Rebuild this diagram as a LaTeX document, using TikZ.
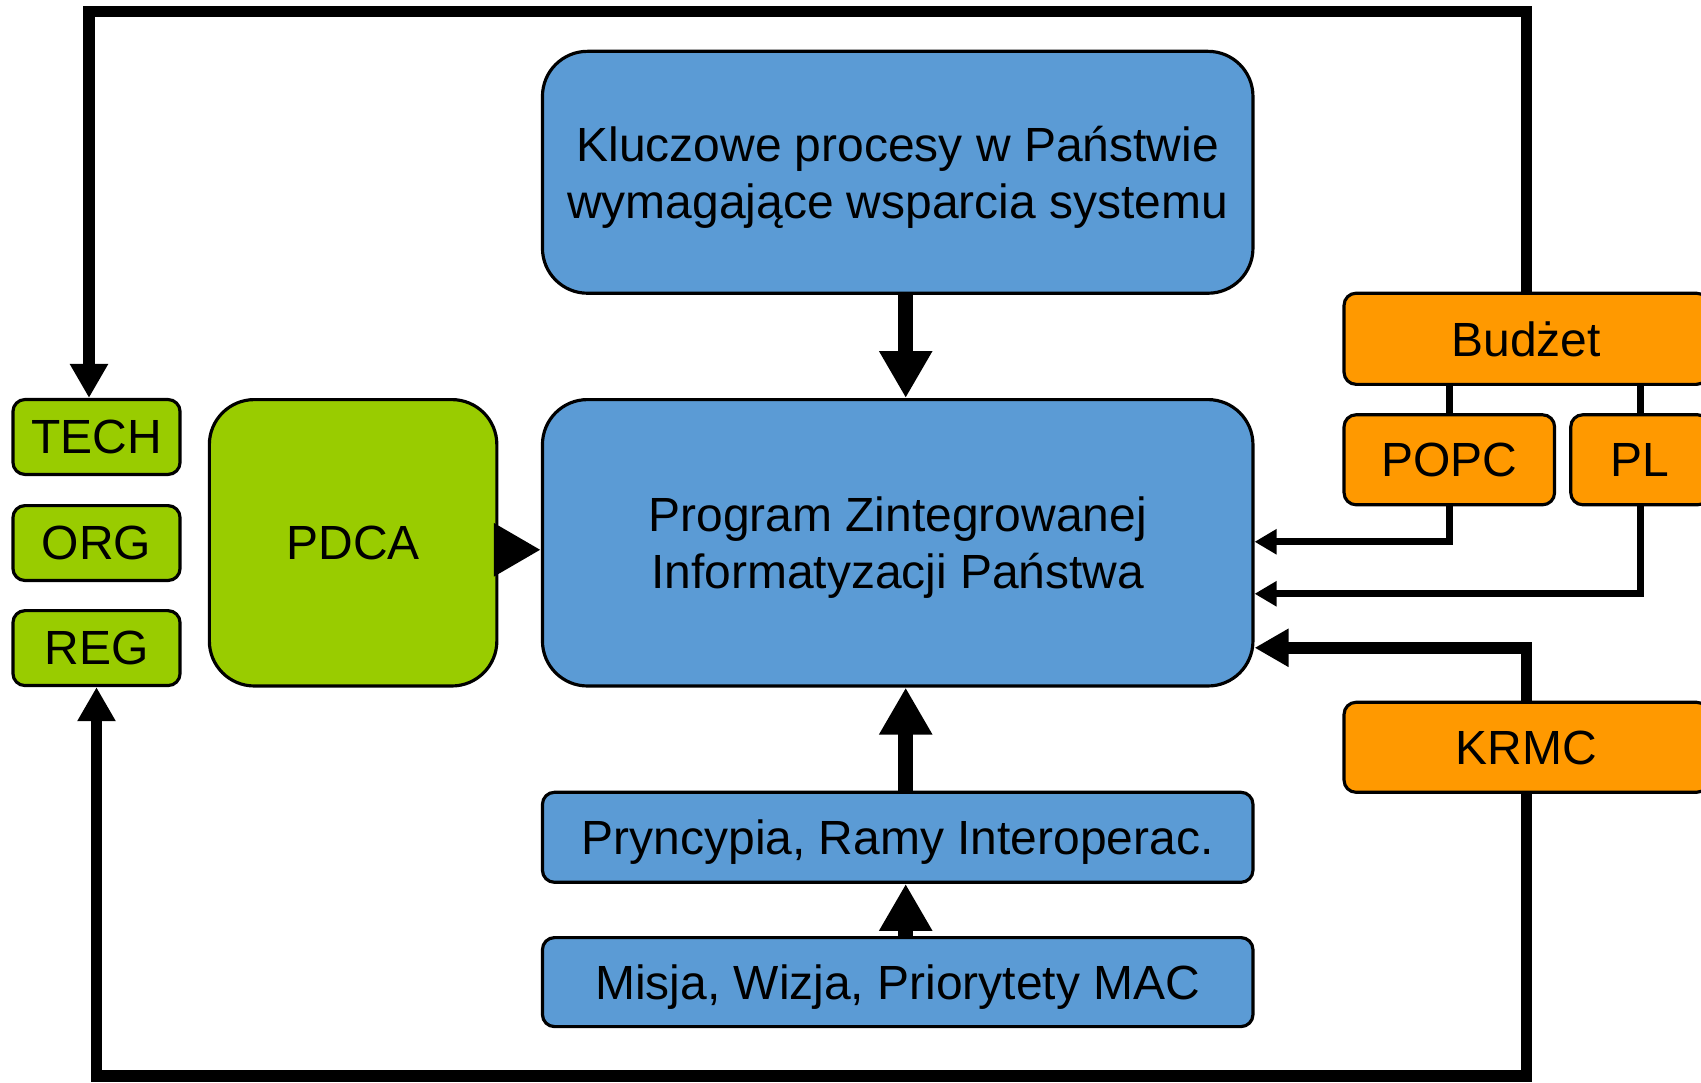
\documentclass[tikz,border=0pt]{standalone}
\usepackage{fontspec}
\setmainfont{Liberation Sans}
\usetikzlibrary{arrows.meta,positioning}

\definecolor{pzipblue}{RGB}{91,155,213}
\definecolor{pzipgreen}{RGB}{153,204,0}
\definecolor{pziporange}{RGB}{255,153,0}

\tikzstyle{bigbox} = [draw=black, line width=0.9pt, rectangle,
    rounded corners=0.45cm, align=center, inner sep=0pt, text depth=0pt]
\tikzstyle{smallbox} = [draw=black, line width=0.9pt, rectangle,
    rounded corners=0.12cm, align=center, inner sep=0pt, text depth=0pt]
\tikzstyle{fatarrow} = [line width=4.3pt, -{Triangle[length=0.47cm, width=0.5cm]}]
\tikzstyle{midarrow} = [line width=3.3pt, -{Triangle[length=0.34cm, width=0.36cm]}]
\tikzstyle{thinarrow} = [line width=2pt, -{Triangle[length=0.22cm, width=0.24cm]}]

\begin{document}
\begin{tikzpicture}[font=\fontsize{13.65pt}{16.4pt}\selectfont]
\useasboundingbox (0,0) rectangle (17.01,10.83);
\clip (0,0) rectangle (17.01,10.83);

%------------ bloki niebieskie ---------------------
\node [bigbox, fill=pzipblue, minimum width=7.105cm, minimum height=2.419cm]
    (Kluczowe) at (8.977,9.107) {Kluczowe procesy w Państwie\\wymagające wsparcia systemu};
\node [bigbox, fill=pzipblue, minimum width=7.105cm, minimum height=2.864cm]
    (Program) at (8.977,5.402) {Program Zintegrowanej\\Informatyzacji Państwa};
\node [smallbox, fill=pzipblue, minimum width=7.105cm, minimum height=0.9cm]
    (Pryncypia) at (8.977,2.457) {Pryncypia, Ramy Interoperac.};
\node [smallbox, fill=pzipblue, minimum width=7.105cm, minimum height=0.89cm]
    (Misja) at (8.977,1.009) {Misja, Wizja, Priorytety MAC};

%------------ bloki zielone ---------------------
\node [bigbox, fill=pzipgreen, minimum width=2.875cm, minimum height=2.864cm]
    (PDCA) at (3.531,5.402) {PDCA};
\node [smallbox, fill=pzipgreen, minimum width=1.671cm, minimum height=0.749cm]
    (TECH) at (0.965,6.46) {TECH};
\node [smallbox, fill=pzipgreen, minimum width=1.671cm, minimum height=0.749cm,
    below=0.28cm of TECH] (ORG) {ORG};
\node [smallbox, fill=pzipgreen, minimum width=1.671cm, minimum height=0.749cm,
    below=0.27cm of ORG] (REG) {REG};

%------------ bloki pomaranczowe ---------------------
\node [smallbox, fill=pziporange, minimum width=3.645cm, minimum height=0.911cm]
    (Budzet) at (15.263,7.442) {Budżet};
\node [smallbox, fill=pziporange, minimum width=2.105cm, minimum height=0.9cm]
    (POPC) at (14.493,6.232) {POPC};
\node [smallbox, fill=pziporange, minimum width=1.389cm, minimum height=0.9cm]
    (PL) at (16.402,6.232) {PL};
\node [smallbox, fill=pziporange, minimum width=3.645cm, minimum height=0.9cm]
    (KRMC) at (15.263,3.357) {KRMC};

%------------ strzalki ---------------------
\draw [fatarrow] ([xshift=0.8mm]Kluczowe.south) -- ([xshift=0.8mm]Program.north);
\draw [fatarrow] ([xshift=0.8mm]Pryncypia.north) -- ([xshift=0.8mm]Program.south);
\draw [fatarrow] ([xshift=0.8mm]Misja.north) -- ([xshift=0.8mm]Pryncypia.south);
\draw [fatarrow] ([yshift=-0.7mm]PDCA.east) -- ([yshift=-0.7mm]Program.west);

\draw [line width=2pt] (POPC.north) -- (POPC.north |- Budzet.south);
\draw [line width=2pt] (PL.north) -- (PL.north |- Budzet.south);
\draw [thinarrow] (POPC.south) |- ([yshift=0.1mm]Program.east);
\draw [thinarrow] (PL.south) |- ([yshift=-5.1mm]Program.east);
\draw [midarrow] (KRMC.north) |- ([yshift=-10.5mm]Program.east);

%------------ petle zewnetrzne ---------------------
\draw [midarrow] (Budzet.north) -- ++(0,2.8) -| ([xshift=-0.75mm]TECH.north);
\draw [midarrow] (KRMC.south) -- ++(0,-2.82) -| (REG.south);
\end{tikzpicture}
\end{document}
